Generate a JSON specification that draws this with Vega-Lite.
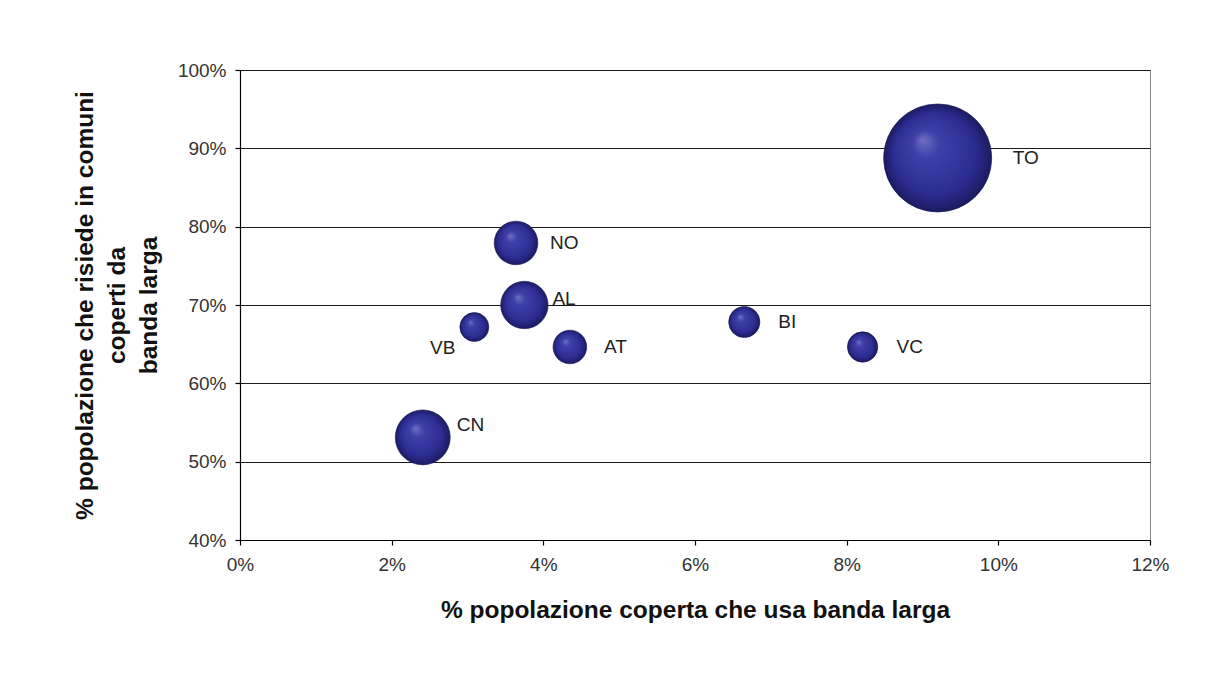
{
  "$schema": "https://vega.github.io/schema/vega-lite/v6.json",
  "width": 910,
  "height": 470,
  "autosize": {"type": "none"},
  "padding": {"left": 240, "top": 70, "right": 66, "bottom": 141},
  "background": "white",
  "config": {
    "font": "Liberation Sans",
    "view": {"stroke": "#8a8a8a", "strokeWidth": 1},
    "axis": {
      "labelFont": "Liberation Sans",
      "labelFontSize": 19,
      "labelColor": "#333333",
      "labelFlush": false,
      "titleFont": "Liberation Sans",
      "titleFontSize": 24.5,
      "titleFontWeight": "bold",
      "titleColor": "#111111",
      "domainColor": "#000000",
      "domainWidth": 1.2,
      "tickColor": "#000000",
      "tickSize": 5,
      "tickWidth": 1.2,
      "gridColor": "#1a1a1a",
      "gridWidth": 1.2
    }
  },
  "datasets": {
    "province": [
      {"provincia": "TO", "uso": 0.0920, "copertura": 0.8877, "popolazione": 2242000},
      {"provincia": "NO", "uso": 0.0364, "copertura": 0.7792, "popolazione": 365000},
      {"provincia": "AL", "uso": 0.0375, "copertura": 0.7000, "popolazione": 432000},
      {"provincia": "VB", "uso": 0.0309, "copertura": 0.6719, "popolazione": 161000},
      {"provincia": "AT", "uso": 0.0435, "copertura": 0.6464, "popolazione": 217000},
      {"provincia": "BI", "uso": 0.0665, "copertura": 0.6783, "popolazione": 187000},
      {"provincia": "VC", "uso": 0.0821, "copertura": 0.6464, "popolazione": 177000},
      {"provincia": "CN", "uso": 0.0241, "copertura": 0.5310, "popolazione": 580000}
    ]
  },
  "data": {"name": "province"},
  "encoding": {
    "x": {
      "field": "uso",
      "type": "quantitative",
      "scale": {"domain": [0, 0.12], "nice": false, "zero": false},
      "axis": {
        "values": [0, 0.02, 0.04, 0.06, 0.08, 0.1, 0.12],
        "format": ".0%",
        "grid": false,
        "labelPadding": 10,
        "title": "% popolazione coperta che usa banda larga",
        "titlePadding": 24
      }
    },
    "y": {
      "field": "copertura",
      "type": "quantitative",
      "scale": {"domain": [0.4, 1.0], "nice": false, "zero": false},
      "axis": {
        "values": [0.4, 0.5, 0.6, 0.7, 0.8, 0.9, 1.0],
        "format": ".0%",
        "grid": true,
        "labelPadding": 9,
        "title": ["% popolazione che risiede in comuni", "coperti da", "banda larga"],
        "titleLineHeight": 32,
        "titlePadding": 16
      }
    }
  },
  "layer": [
    {
      "mark": {
        "type": "circle",
        "opacity": 1,
        "stroke": "#1a1a58",
        "strokeWidth": 0.6,
        "color": {
          "gradient": "radial",
          "x1": 0.36, "y1": 0.33, "r1": 0,
          "x2": 0.5, "y2": 0.5, "r2": 0.5,
          "stops": [
            {"offset": 0, "color": "#7070c4"},
            {"offset": 0.25, "color": "#3f3fa8"},
            {"offset": 0.75, "color": "#2c2c92"},
            {"offset": 1, "color": "#1b1b60"}
          ]
        }
      },
      "encoding": {
        "size": {
          "field": "popolazione",
          "type": "quantitative",
          "scale": {"type": "linear", "domain": [0, 2242000], "range": [0, 11690], "zero": true},
          "legend": null
        }
      }
    },
    {
      "transform": [{"filter": "datum.provincia === 'TO'"}],
      "mark": {"type": "text", "align": "left", "baseline": "middle", "dx": 75, "fontSize": 19, "color": "#222222", "font": "Liberation Sans"},
      "encoding": {"text": {"field": "provincia"}}
    },
    {
      "transform": [{"filter": "indexof(['NO','AT','BI','VC'], datum.provincia) >= 0"}],
      "mark": {"type": "text", "align": "left", "baseline": "middle", "dx": 34, "fontSize": 19, "color": "#222222", "font": "Liberation Sans"},
      "encoding": {"text": {"field": "provincia"}}
    },
    {
      "transform": [{"filter": "datum.provincia === 'AL'"}],
      "mark": {"type": "text", "align": "left", "baseline": "middle", "dx": 28, "dy": -6, "fontSize": 19, "color": "#222222", "font": "Liberation Sans"},
      "encoding": {"text": {"field": "provincia"}}
    },
    {
      "transform": [{"filter": "datum.provincia === 'VB'"}],
      "mark": {"type": "text", "align": "right", "baseline": "middle", "dx": -19, "dy": 21, "fontSize": 19, "color": "#222222", "font": "Liberation Sans"},
      "encoding": {"text": {"field": "provincia"}}
    },
    {
      "transform": [{"filter": "datum.provincia === 'CN'"}],
      "mark": {"type": "text", "align": "left", "baseline": "middle", "dx": 34, "dy": -12, "fontSize": 19, "color": "#222222", "font": "Liberation Sans"},
      "encoding": {"text": {"field": "provincia"}}
    }
  ]
}
